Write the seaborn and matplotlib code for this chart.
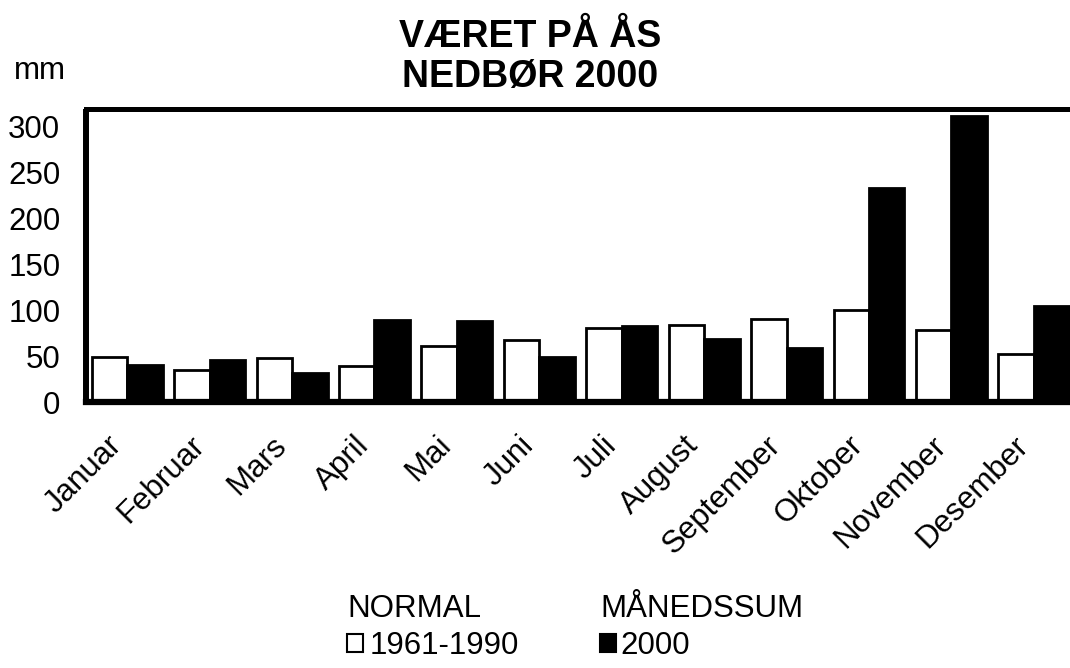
import pandas as pd
import matplotlib.pyplot as plt
import matplotlib.transforms as mtransforms
import seaborn as sns
from matplotlib.patches import Patch

# Data (mm)
months = ['Januar', 'Februar', 'Mars', 'April', 'Mai', 'Juni', 'Juli',
          'August', 'September', 'Oktober', 'November', 'Desember']
normal = [49, 35, 48, 39, 61, 68, 81, 84, 91, 100, 79, 53]
sum_2000 = [41, 46, 32, 90, 89, 49, 83, 69, 59, 233, 312, 105]
series = ['1961-1990', '2000']
y_ticks = [0, 50, 100, 150, 200, 250, 300]

df = pd.DataFrame({
    'month': months * 2,
    'mm': normal + sum_2000,
    'serie': [series[0]] * 12 + [series[1]] * 12,
})

sns.set_style('white')
plt.rcParams['font.family'] = ['Liberation Sans', 'DejaVu Sans']
plt.rcParams['text.color'] = 'black'
plt.rcParams['xtick.color'] = 'black'
plt.rcParams['ytick.color'] = 'black'

FS = 22.5

fig = plt.figure(figsize=(10.7, 6.68), dpi=100)
ax = fig.add_axes([0.0804, 0.398, 0.9243, 0.4394])

sns.barplot(data=df, x='month', y='mm', hue='serie', palette=['white', 'black'],
            saturation=1, edgecolor='black', linewidth=2, width=0.86, gap=0,
            legend=False, ax=ax)

ax.set_xlim(-0.5, 11.5)
ax.set_ylim(0, 320)
ax.set_xlabel('')
ax.set_ylabel('')

# y axis
ax.set_yticks(y_ticks)
ax.tick_params(axis='y', direction='inout', length=14, width=1, color='#404040',
               labelsize=FS, pad=11.5, labelcolor='black')

# x axis: ticks between months, labels at month centres
ax.set_xticks([i - 0.5 for i in range(13)], labels=[''] * 13)
ax.set_xticks(range(12), labels=months, minor=True)
ax.tick_params(axis='x', which='major', direction='inout', length=12, width=1,
               color='#404040')
ax.tick_params(axis='x', which='minor', length=0, pad=28, labelsize=FS)
shift = mtransforms.ScaledTranslation(-10 / 100, 0, fig.dpi_scale_trans)
for lbl in ax.get_xticklabels(minor=True):
    lbl.set_rotation(45)
    lbl.set_ha('right')
    lbl.set_va('center')
    lbl.set_rotation_mode('anchor')
    lbl.set_transform(lbl.get_transform() + shift)

# frame
for side, lw, cap in [('left', 4.3, 'butt'), ('bottom', 4.5, 'projecting'),
                      ('top', 3.6, 'projecting')]:
    ax.spines[side].set_linewidth(lw)
    ax.spines[side].set_color('black')
    ax.spines[side].set_capstyle(cap)
ax.spines['right'].set_visible(False)

# titles
fig.text(0.4953, 1 - 47 / 668, 'VÆRET PÅ ÅS', ha='center', va='baseline',
         fontsize=27, fontweight='bold')
fig.text(0.4953, 1 - 87 / 668, 'NEDBØR 2000', ha='center', va='baseline',
         fontsize=27, fontweight='bold')
fig.text(14 / 1070, 1 - 79 / 668, 'mm', fontsize=FS, va='baseline')

# legend
common = dict(loc='upper left', frameon=False, fontsize=FS, title_fontsize=FS,
              alignment='left', handlelength=0.51, handleheight=0.51,
              borderpad=0, borderaxespad=0, labelspacing=0.22)
leg1 = fig.legend(handles=[Patch(facecolor='white', edgecolor='black', linewidth=1.5)],
                  labels=[series[0]], title='NORMAL', handletextpad=0.2,
                  bbox_to_anchor=(347 / 1070, 1 - 594 / 668), **common)
leg2 = fig.legend(handles=[Patch(facecolor='black', edgecolor='black', linewidth=1.5)],
                  labels=[series[1]], title='MÅNEDSSUM', handletextpad=0.15,
                  bbox_to_anchor=(600 / 1070, 1 - 594 / 668), **common)

fig.savefig('out.png', dpi=100)
